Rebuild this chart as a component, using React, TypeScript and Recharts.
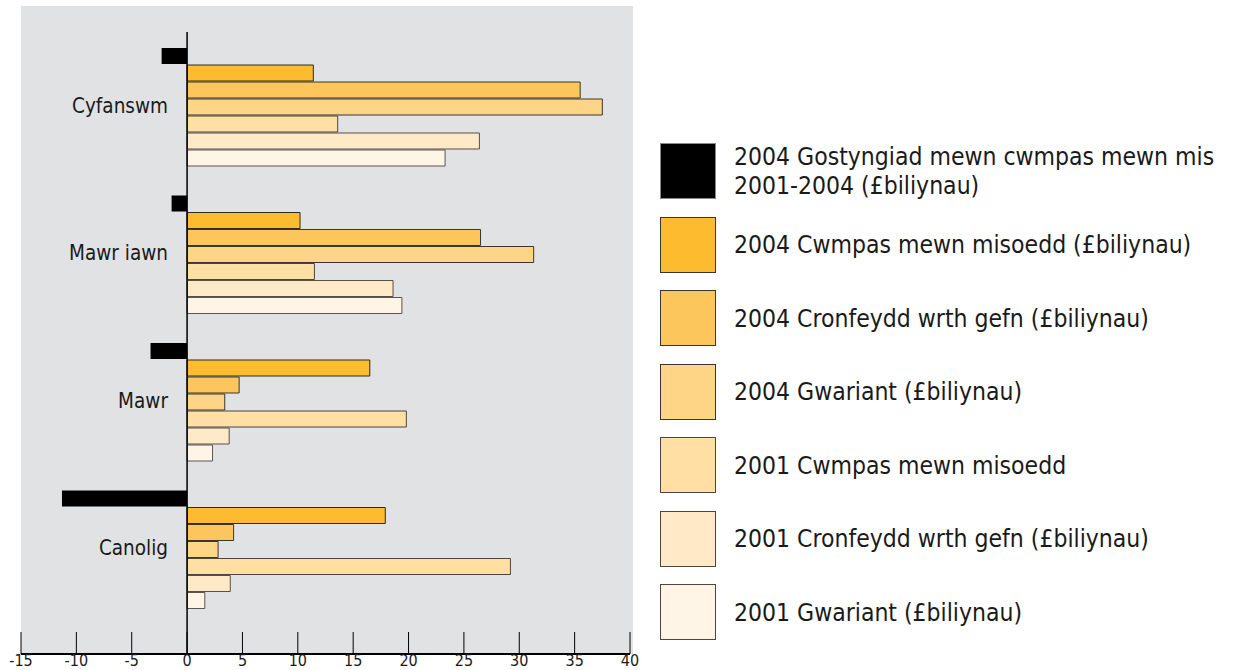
import { Bar, BarChart, Legend, ReferenceLine, XAxis, YAxis } from 'recharts'

const categories = ['Cyfanswm', 'Mawr iawn', 'Mawr', 'Canolig']

const gostyngiad2004 = [-2.3, -1.4, -3.3, -11.3]
const cwmpas2004 = [11.4, 10.2, 16.5, 17.9]
const cronfeydd2004 = [35.5, 26.5, 4.7, 4.2]
const gwariant2004 = [37.5, 31.3, 3.4, 2.8]
const cwmpas2001 = [13.6, 11.5, 19.8, 29.2]
const cronfeydd2001 = [26.4, 18.6, 3.8, 3.9]
const gwariant2001 = [23.3, 19.4, 2.3, 1.6]

const xTicks = [-15, -10, -5, 0, 5, 10, 15, 20, 25, 30, 35, 40]

const series = [
  { key: 'gostyngiad2004', name: '2004 Gostyngiad mewn cwmpas mewn mis\n2001-2004 (£biliynau)', values: gostyngiad2004, fill: '#000000', stroke: 'none', swatchBorder: '#8a8a8a' },
  { key: 'cwmpas2004', name: '2004 Cwmpas mewn misoedd (£biliynau)', values: cwmpas2004, fill: '#fdbb2f', stroke: '#2e2a22', swatchBorder: '#3a3530' },
  { key: 'cronfeydd2004', name: '2004 Cronfeydd wrth gefn (£biliynau)', values: cronfeydd2004, fill: '#fdc65c', stroke: '#3a3530', swatchBorder: '#3a3530' },
  { key: 'gwariant2004', name: '2004 Gwariant (£biliynau)', values: gwariant2004, fill: '#fed586', stroke: '#3a3530', swatchBorder: '#3a3530' },
  { key: 'cwmpas2001', name: '2001 Cwmpas mewn misoedd', values: cwmpas2001, fill: '#ffdfa3', stroke: '#4a4540', swatchBorder: '#4a4540' },
  { key: 'cronfeydd2001', name: '2001 Cronfeydd wrth gefn (£biliynau)', values: cronfeydd2001, fill: '#ffe9c6', stroke: '#55504a', swatchBorder: '#4a4540' },
  { key: 'gwariant2001', name: '2001 Gwariant (£biliynau)', values: gwariant2001, fill: '#fff5e6', stroke: '#5a5550', swatchBorder: '#4a4540' },
]

const data = categories.map((category, i) => {
  const row: Record<string, string | number> = { category }
  series.forEach((s) => {
    row[s.key] = s.values[i]
  })
  return row
})

const FONT = "'DejaVu Sans Condensed', 'DejaVu Sans', sans-serif"

// labels sit just left of the zero line, right aligned
function CategoryTick(props: any) {
  const { x, y, payload } = props
  return (
    <text x={x + 147} y={y} textAnchor="end" dominantBaseline="central" fontFamily={FONT} fontSize={20.5} fill="#1a1a1a">
      {payload.value}
    </text>
  )
}

function XTick(props: any) {
  const { x, y, payload } = props
  return (
    <text x={x} y={y} textAnchor="middle" dominantBaseline="hanging" fontFamily={FONT} fontSize={16} fill="#1a1a1a">
      {payload.value}
    </text>
  )
}

function LegendContent() {
  return (
    <div style={{ fontFamily: FONT, fontSize: 24.5, color: '#1a1a1a' }}>
      {series.map((s) => (
        <div key={s.key} style={{ display: 'flex', alignItems: 'center', height: 56, marginBottom: 17.5 }}>
          <div
            style={{
              width: 56,
              height: 56,
              boxSizing: 'border-box',
              background: s.fill,
              border: `1.5px solid ${s.swatchBorder}`,
              flex: 'none',
            }}
          />
          <div style={{ marginLeft: 18, whiteSpace: 'pre', lineHeight: '29px' }}>{s.name}</div>
        </div>
      ))}
    </div>
  )
}

export default function App() {
  return (
    <div style={{ position: 'absolute', left: 0, top: 0, width: 1243, height: 670, background: '#fff', overflow: 'hidden' }}>
      <div style={{ position: 'absolute', left: 21, top: 6, width: 612, height: 648, background: '#e1e2e4' }} />
      <div style={{ position: 'absolute', left: 0, top: 0 }}>
        <BarChart
          width={1243}
          height={670}
          layout="vertical"
          data={data}
          margin={{ top: 32, right: 613, bottom: 0, left: 20 }}
          barCategoryGap={16}
          barGap={1}
        >
          <XAxis
            type="number"
            domain={[-15, 40]}
            ticks={xTicks}
            interval={0}
            height={16}
            tickSize={-22}
            tickMargin={22}
            axisLine={{ stroke: '#000', strokeWidth: 2 }}
            tickLine={{ stroke: '#000', strokeWidth: 1 }}
            tick={(p: any) => <XTick {...p} />}
          />
          <YAxis
            type="category"
            dataKey="category"
            width={1}
            padding={{ top: 0, bottom: 32 }}
            axisLine={false}
            tickLine={false}
            tickSize={0}
            tickMargin={0}
            tick={(p: any) => <CategoryTick {...p} />}
          />
          {series.map((s) => (
            <Bar key={s.key} dataKey={s.key} name={s.name} fill={s.fill} stroke={s.stroke} strokeWidth={1} isAnimationActive={false} />
          ))}
          <ReferenceLine x={0} stroke="#000" strokeWidth={1.5} />
          <Legend
            layout="horizontal"
            align="center"
            verticalAlign="middle"
            content={<LegendContent />}
            wrapperStyle={{ left: 660, top: 143, width: 583, height: 500 }}
          />
        </BarChart>
      </div>
    </div>
  )
}
